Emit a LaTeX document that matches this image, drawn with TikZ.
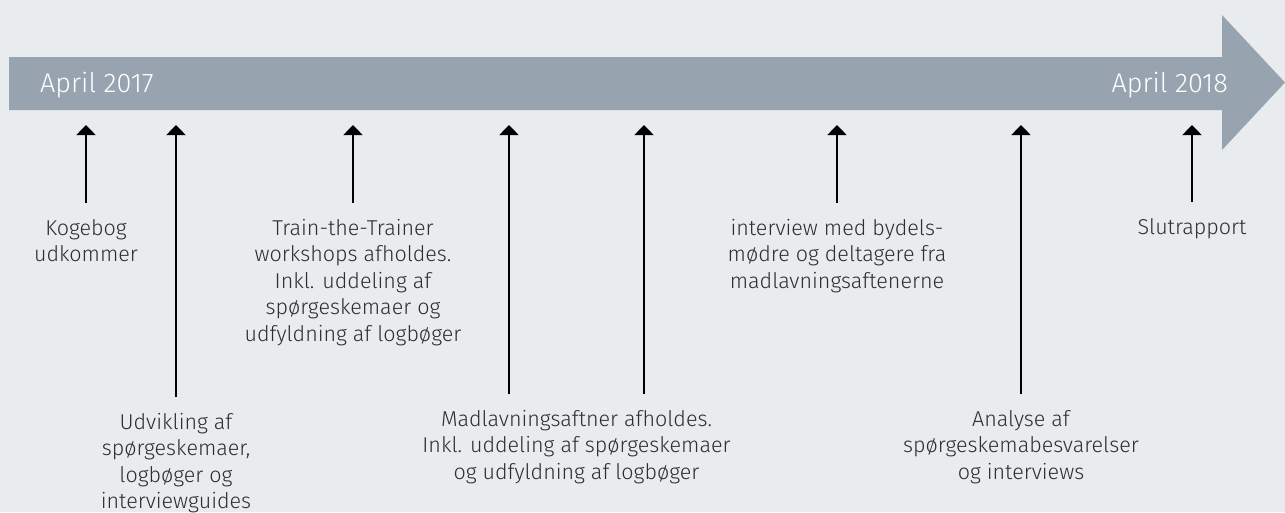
\documentclass[tikz,border=0pt]{standalone}
\usepackage{fontspec}
\setmainfont{Fira Sans}[UprightFont={* Light}]
\usetikzlibrary{positioning, arrows.meta, calc}

\definecolor{bandgray}{HTML}{97A3AF}
\definecolor{bggray}{HTML}{E8ECEF}
\definecolor{txtgray}{HTML}{2E2E2E}

\begin{document}
\begin{tikzpicture}[
    x=1pt, y=-1pt,
    >={Triangle[width=19pt, length=10pt]}, % Filled arrow tips
    % Styles
    band/.style={ % Timeline arrow
        fill=bandgray,
        draw=none
    },
    date/.style={ % Dates on the timeline
        text=white,
        font=\fontsize{27}{32}\selectfont,
        inner sep=0pt
    },
    event/.style={ % Event descriptions
        align=center,
        text=txtgray,
        font=\fontsize{21.5}{26.5}\selectfont,
        inner sep=0pt,
        anchor=north
    },
    tick/.style={ % Arrows pointing at the timeline
        ->,
        line width=1.5pt,
        shorten <=16pt
    }
]

    % Background and bounding box
    \fill[bggray] (0,0) rectangle (1285,512);
    \useasboundingbox (0,0) rectangle (1285,512);

    % Timeline arrow
    \fill[band] (9,57) -- (1222,57) -- (1222,15) -- (1285,82.5)
        -- (1222,150) -- (1222,110) -- (9,110) -- cycle;
    \node[date, anchor=base west] (start) at (40,92) {April 2017};
    \node[date, anchor=base east] (end) at (1228,92) {April 2018};

    % Tips of the arrows on the timeline
    \foreach \X/\P in {1/86, 2/176, 3/353, 4/509, 5/644, 6/837, 7/1021, 8/1192} {
        \coordinate (t\X) at (\P,125);
    }

    % Events above
    \node[event] (kogebog) at (86,219) {Kogebog\\udkommer};
    \node[event] (train) at (353,219) {Train-the-Trainer\\workshops afholdes.\\Inkl. uddeling af\\spørgeskemaer og\\udfyldning af logbøger};
    \node[event] (interview) at (837,219) {interview med bydels-\\mødre og deltagere fra\\madlavningsaftenerne};
    \node[event] (slut) at (1192,218) {Slutrapport};

    % Events below
    \node[event] (udvikling) at (176,413) {Udvikling af\\spørgeskemaer,\\logbøger og\\interviewguides};
    \node[event] (madlavning) at (576.5,410) {Madlavningsaftner afholdes.\\Inkl. uddeling af spørgeskemaer\\og udfyldning af logbøger};
    \node[event] (analyse) at (1021,410) {Analyse af\\spørgeskemabesvarelser\\og interviews};

    % Arrows from the events to the timeline
    \draw[tick] (kogebog.north -| t1) -- (t1);
    \draw[tick] (udvikling.north -| t2) -- (t2);
    \draw[tick] (train.north -| t3) -- (t3);
    \draw[tick] (madlavning.north -| t4) -- (t4);
    \draw[tick] (madlavning.north -| t5) -- (t5);
    \draw[tick] (interview.north -| t6) -- (t6);
    \draw[tick] (analyse.north -| t7) -- (t7);
    \draw[tick] (slut.north -| t8) -- (t8);

\end{tikzpicture}
\end{document}
